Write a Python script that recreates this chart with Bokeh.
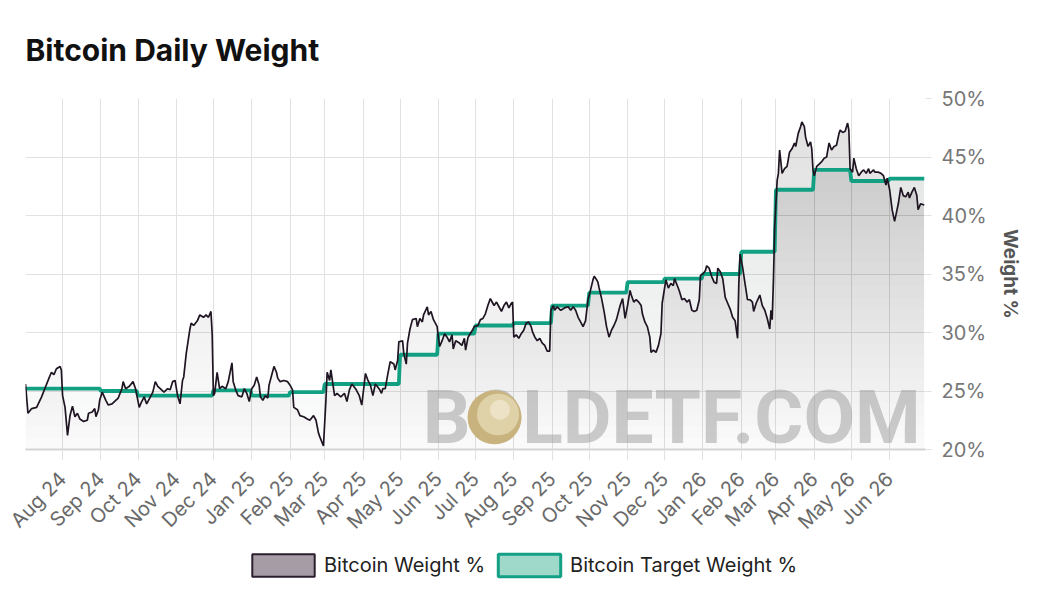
import math
import numpy as np
import pandas as pd
from bokeh.plotting import figure
from bokeh.layouts import column
from bokeh.models import (Range1d, MonthsTicker, DatetimeTickFormatter, PrintfTickFormatter,
                          FixedTicker, Legend, LegendItem, Label)
from bokeh.embed import file_html
from bokeh.resources import INLINE

# ---------------- data ----------------
weight_dates = [
    "2024-07-02","2024-07-04","2024-07-07","2024-07-11","2024-07-15","2024-07-18","2024-07-21","2024-07-23","2024-07-25","2024-07-27","2024-07-30","2024-07-31",
    "2024-08-01","2024-08-03","2024-08-05","2024-08-07","2024-08-09","2024-08-11","2024-08-13","2024-08-15","2024-08-18","2024-08-21","2024-08-22","2024-08-25","2024-08-27","2024-08-28","2024-08-30","2024-08-31",
    "2024-09-02","2024-09-05","2024-09-07","2024-09-10","2024-09-13","2024-09-15","2024-09-18","2024-09-19","2024-09-21","2024-09-24","2024-09-27","2024-09-29",
    "2024-10-02","2024-10-04","2024-10-06","2024-10-08","2024-10-11","2024-10-13","2024-10-15","2024-10-17","2024-10-19","2024-10-22","2024-10-25","2024-10-27","2024-10-29","2024-10-31",
    "2024-11-02","2024-11-04","2024-11-06","2024-11-07","2024-11-09","2024-11-12","2024-11-13","2024-11-15","2024-11-18","2024-11-20","2024-11-23","2024-11-25","2024-11-27","2024-11-29","2024-11-30",
    "2024-12-01","2024-12-02","2024-12-04","2024-12-06","2024-12-08","2024-12-11","2024-12-13","2024-12-16","2024-12-17","2024-12-19","2024-12-21","2024-12-24","2024-12-26","2024-12-28","2024-12-30",
    "2025-01-01","2025-01-03","2025-01-05","2025-01-07","2025-01-08","2025-01-10","2025-01-12","2025-01-14","2025-01-15","2025-01-17","2025-01-19","2025-01-21","2025-01-22","2025-01-24","2025-01-27","2025-01-30",
    "2025-02-01","2025-02-03","2025-02-04","2025-02-07","2025-02-09","2025-02-12","2025-02-15","2025-02-17","2025-02-20","2025-02-22","2025-02-24","2025-02-25","2025-02-28",
    "2025-03-02","2025-03-03","2025-03-05","2025-03-06","2025-03-09","2025-03-11","2025-03-14","2025-03-17","2025-03-19","2025-03-21","2025-03-23","2025-03-26","2025-03-29","2025-03-31",
    "2025-04-02","2025-04-03","2025-04-05","2025-04-07","2025-04-09","2025-04-11","2025-04-14","2025-04-16","2025-04-17","2025-04-19","2025-04-21","2025-04-23","2025-04-26","2025-04-27","2025-04-29","2025-04-30",
    "2025-05-03","2025-05-04","2025-05-06","2025-05-07","2025-05-09","2025-05-11","2025-05-14","2025-05-15","2025-05-17","2025-05-19","2025-05-20","2025-05-23","2025-05-24","2025-05-26","2025-05-28","2025-05-31",
    "2025-06-01","2025-06-02","2025-06-04","2025-06-06","2025-06-08","2025-06-10","2025-06-12","2025-06-13","2025-06-15","2025-06-18","2025-06-20","2025-06-22","2025-06-23","2025-06-25","2025-06-28","2025-06-30",
    "2025-07-03","2025-07-05","2025-07-07","2025-07-09","2025-07-11","2025-07-13","2025-07-15","2025-07-16","2025-07-18","2025-07-20","2025-07-22","2025-07-24","2025-07-26","2025-07-28","2025-07-30","2025-07-31",
    "2025-08-01","2025-08-03","2025-08-05","2025-08-07","2025-08-09","2025-08-11","2025-08-13","2025-08-15","2025-08-16","2025-08-18","2025-08-20","2025-08-22","2025-08-24","2025-08-26","2025-08-28","2025-08-30","2025-08-31",
    "2025-09-02","2025-09-03","2025-09-05","2025-09-08","2025-09-11","2025-09-14","2025-09-16","2025-09-18","2025-09-20","2025-09-22","2025-09-24","2025-09-26","2025-09-28","2025-09-30",
    "2025-10-02","2025-10-04","2025-10-05","2025-10-07","2025-10-08","2025-10-09","2025-10-11","2025-10-13","2025-10-15","2025-10-17","2025-10-19","2025-10-21","2025-10-23","2025-10-26","2025-10-28","2025-10-30",
    "2025-11-01","2025-11-03","2025-11-04","2025-11-06","2025-11-08","2025-11-10","2025-11-12","2025-11-13","2025-11-15","2025-11-17","2025-11-19","2025-11-20","2025-11-22","2025-11-24","2025-11-26","2025-11-28","2025-11-29",
    "2025-12-02","2025-12-04","2025-12-06","2025-12-08","2025-12-09","2025-12-12","2025-12-13","2025-12-15","2025-12-17","2025-12-19","2025-12-21","2025-12-23","2025-12-25","2025-12-27","2025-12-29","2025-12-30",
    "2026-01-01","2026-01-03","2026-01-04","2026-01-06","2026-01-08","2026-01-10","2026-01-12","2026-01-13","2026-01-15","2026-01-17","2026-01-19","2026-01-21","2026-01-23","2026-01-25","2026-01-27","2026-01-29","2026-01-30","2026-01-31",
    "2026-02-02","2026-02-04","2026-02-06","2026-02-08","2026-02-10","2026-02-11","2026-02-13","2026-02-16","2026-02-18","2026-02-20","2026-02-22","2026-02-24","2026-02-25","2026-02-26","2026-02-27","2026-02-28",
    "2026-03-02","2026-03-03","2026-03-04","2026-03-06","2026-03-08","2026-03-10","2026-03-12","2026-03-14","2026-03-16","2026-03-17","2026-03-19","2026-03-21","2026-03-22","2026-03-24","2026-03-25","2026-03-27","2026-03-29","2026-03-30","2026-03-31",
    "2026-04-01","2026-04-03","2026-04-05","2026-04-07","2026-04-09","2026-04-11","2026-04-13","2026-04-15","2026-04-17","2026-04-19","2026-04-21","2026-04-22","2026-04-24","2026-04-26","2026-04-28","2026-04-29","2026-04-30",
    "2026-05-02","2026-05-03","2026-05-05","2026-05-07","2026-05-09","2026-05-11","2026-05-13","2026-05-15","2026-05-16","2026-05-19","2026-05-20","2026-05-23","2026-05-25","2026-05-27","2026-05-29","2026-05-30",
    "2026-06-01","2026-06-03","2026-06-05","2026-06-07","2026-06-08","2026-06-10","2026-06-12","2026-06-14","2026-06-16","2026-06-17","2026-06-19","2026-06-21","2026-06-23","2026-06-24","2026-06-26","2026-06-29",
]
weight_values = [
    25.6,23.1,23.5,23.6,24.5,25.3,26.1,26.6,26.4,26.9,27.1,26.8,
    24.6,23.6,21.2,22.9,23.7,22.8,23.1,22.6,22.4,22.5,23.1,23.2,23.5,22.8,23.4,24.2,
    24.9,24.2,23.8,23.9,24.2,24.4,25.2,25.8,25.2,25.4,25.8,25.2,
    23.6,24.1,24.5,23.9,24.5,24.9,25.8,25.4,25.2,24.9,25.2,25.1,25.8,25.9,
    24.6,23.9,25.9,26.2,28.2,30.3,30.8,30.6,31.0,31.5,31.3,31.5,31.3,31.8,29.9,
    24.6,24.8,26.6,25.2,25.4,25.2,25.8,27.4,25.8,25.1,24.6,24.5,25.2,24.8,24.1,
    25.2,25.5,26.2,25.5,24.5,24.2,24.6,24.4,25.5,26.3,27.1,26.6,26.1,25.8,25.9,25.8,
    25.5,25.1,23.6,23.4,22.9,22.8,22.6,22.5,22.9,22.5,21.4,21.1,20.3,
    24.2,26.6,25.9,26.8,24.6,24.8,24.5,24.8,24.1,25.1,25.6,25.2,24.6,23.8,
    25.6,26.5,25.9,25.5,24.6,25.6,25.2,24.8,25.2,25.2,26.4,27.5,27.3,26.8,27.6,29.2,
    29.3,28.2,27.3,29.1,30.3,31.1,31.2,30.5,31.2,30.9,31.5,32.2,31.5,31.8,31.1,30.5,
    29.5,28.8,29.3,29.9,29.6,29.2,29.8,28.6,29.3,29.1,28.9,29.5,28.5,29.6,30.1,30.5,
    30.6,31.1,31.2,31.6,32.3,32.9,32.5,32.3,32.6,32.2,31.8,32.3,32.6,32.1,32.5,32.6,
    29.6,29.8,29.5,29.9,30.2,30.8,30.9,30.5,30.1,29.6,29.3,29.5,29.1,28.9,28.4,28.4,31.9,
    32.3,31.9,32.2,31.9,32.1,32.2,31.9,32.2,31.9,31.3,30.9,30.5,31.0,32.8,
    33.6,34.5,34.8,34.5,34.3,33.8,32.9,31.8,30.5,29.6,30.2,30.6,31.1,32.3,32.9,31.2,
    32.3,33.6,33.2,32.6,32.8,32.6,32.3,31.6,30.9,30.5,29.6,28.3,28.5,28.3,28.9,29.9,32.5,
    34.5,33.8,34.2,34.0,34.6,33.8,33.5,32.8,32.9,32.6,32.8,31.9,31.8,31.9,32.8,34.9,
    35.0,35.3,35.7,35.5,34.8,34.3,34.2,35.5,35.2,34.6,33.0,32.5,32.0,31.3,31.0,29.5,34.2,36.7,
    35.6,34.2,32.8,32.8,32.6,31.8,32.5,33.2,32.3,31.9,31.2,30.3,31.9,31.1,34.5,39.0,
    43.0,43.6,45.6,43.6,44.0,44.2,45.4,45.7,46.2,45.9,47.0,47.6,48.0,47.6,46.7,45.9,46.3,45.7,43.9,
    43.4,44.2,44.4,44.6,44.9,45.0,46.2,45.6,45.9,46.0,47.0,47.3,47.1,47.2,47.9,47.3,44.0,
    43.7,44.9,44.0,43.4,43.7,43.9,43.6,44.0,43.6,43.9,43.7,43.7,43.6,43.4,42.6,43.2,
    42.2,40.5,39.5,40.5,41.0,42.4,41.7,41.6,42.0,41.5,42.0,42.4,41.7,40.5,41.0,40.9,
]
target_months = ["2024-07","2024-08","2024-09","2024-10","2024-11","2024-12",
                 "2025-01","2025-02","2025-03","2025-04","2025-05","2025-06",
                 "2025-07","2025-08","2025-09","2025-10","2025-11","2025-12",
                 "2026-01","2026-02","2026-03","2026-04","2026-05","2026-06"]
target_values = [25.2,25.2,25.0,24.6,24.6,25.05,
                 24.6,24.9,25.6,25.6,28.1,29.9,
                 30.6,30.8,32.3,33.4,34.3,34.6,
                 35.0,36.9,42.2,43.9,42.95,43.15]
y_ticks = [20, 25, 30, 35, 40, 45, 50]
series_labels = ["Bitcoin Weight %", "Bitcoin Target Weight %"]

assert len(weight_dates) == len(weight_values)

wd = pd.to_datetime(weight_dates)
wv = np.array(weight_values, dtype=float)
first, last = wd[0], wd[-1]

tx, ty = [], []
for m, v in zip(target_months, target_values):
    s = pd.Timestamp(m + "-01")
    e = s + pd.offsets.MonthEnd(0)
    s = max(s, first)
    e = min(e, last)
    tx += [s, e]
    ty += [v, v]
tx = pd.DatetimeIndex(tx)
ty = np.array(ty, dtype=float)

FONT = "Inter"

p = figure(width=1035, height=549, x_axis_type="datetime", y_axis_location="right",
           x_range=Range1d(first.to_pydatetime(), pd.Timestamp("2026-06-30").to_pydatetime()),
           y_range=Range1d(20, 50),
           output_backend="svg", toolbar_location=None,
           min_border_left=25, min_border_right=110, min_border_top=98, min_border_bottom=100)
p.background_fill_color = "white"
p.border_fill_color = "white"
p.outline_line_color = None

# title
p.title.text = "Bitcoin Daily Weight"
p.title.text_font = FONT
p.title.text_font_style = "bold"
p.title.text_font_size = "30px"
p.title.text_color = "#111111"
p.title.standoff = 60
p.title.vertical_align = "middle"

# grids
p.xgrid.grid_line_color = "#e2e2e2"
p.ygrid.grid_line_color = "#e2e2e2"

# x axis
p.xaxis.ticker = MonthsTicker(months=list(range(1, 13)))
p.xaxis.formatter = DatetimeTickFormatter(months="%b %y", days="%b %y")
p.xaxis.major_label_orientation = math.pi / 4
p.xaxis.major_label_text_font = FONT
p.xaxis.major_label_text_font_size = "20px"
p.xaxis.major_label_text_color = "#6a6a6a"
p.xaxis.axis_line_color = "#d4d4d4"
p.xaxis.axis_line_width = 2
p.xaxis.major_tick_line_color = "#e2e2e2"
p.xaxis.major_tick_out = 11
p.xaxis.major_tick_in = 0
p.xaxis.minor_tick_line_color = None
p.xaxis.major_label_standoff = 15

# y axis (right)
p.yaxis.ticker = FixedTicker(ticks=y_ticks)
p.yaxis.formatter = PrintfTickFormatter(format="%d%%")
p.yaxis.axis_line_color = None
p.yaxis.major_tick_line_color = "#e2e2e2"
p.yaxis.major_tick_out = 6
p.yaxis.major_tick_in = 0
p.yaxis.minor_tick_line_color = None
p.yaxis.major_label_text_font = FONT
p.yaxis.major_label_text_font_size = "20px"
p.yaxis.major_label_text_color = "#777777"
p.yaxis.major_label_standoff = 10
p.yaxis.axis_label = "Weight %"
p.yaxis.axis_label_text_font = FONT
p.yaxis.axis_label_text_font_style = "bold"
p.yaxis.axis_label_text_font_size = "19px"
p.yaxis.axis_label_text_color = "#555555"
p.yaxis.axis_label_standoff = 9

# gradient fills (stacked translucent layers, darker towards the top)
STEP = 1.0
levels = np.arange(20, 50, STEP)

def gradient_layers(xs, ys, color, a0, k):
    prev = 0.0
    for L in levels:
        if ys.max() <= L:
            break
        cum = min(a0 + k * (L + STEP / 2 - 20), 0.95)
        a = 1 - (1 - cum) / (1 - prev)
        prev = cum
        p.varea(x=xs, y1=np.full(len(ys), float(L)), y2=np.maximum(ys, L),
                fill_color=color, fill_alpha=a)

gradient_layers(wd, wv, "#6c5e6e", 0.013, 0.0072)
gradient_layers(tx, ty, "#4a9f82", 0.012, 0.0070)

# watermark
p.add_layout(Label(x=pd.Timestamp("2025-05-19 07:00").to_pydatetime(), y=22.8,
                   text="BOLDETF.COM", text_font="Roboto", text_font_style="bold",
                   text_font_size="75px", text_color="#9a9a9a", text_alpha=0.5,
                   text_baseline="middle"))
p.scatter(x=[pd.Timestamp("2025-07-16 10:00")], y=[22.75], size=54, marker="circle",
          fill_color="#c8b27e", line_color=None, fill_alpha=1.0, level="overlay")
p.scatter(x=[pd.Timestamp("2025-07-19 06:00")], y=[23.0], size=42, marker="circle",
          fill_color="#e0d3ab", line_color=None, fill_alpha=0.95, level="overlay")
p.scatter(x=[pd.Timestamp("2025-07-20 18:00")], y=[23.4], size=20, marker="circle",
          fill_color="#f2ead3", line_color=None, fill_alpha=0.7, level="overlay")

# lines
p.line(tx, ty, line_color="#12a083", line_width=3.8)
p.line(wd, wv, line_color="#1f1522", line_width=1.7)

# ---------------- legend (own strip below the chart) ----------------
lg = figure(width=1035, height=50, x_range=Range1d(first.to_pydatetime(), last.to_pydatetime()),
            y_range=Range1d(20, 50), x_axis_type="datetime",
            x_axis_location=None, y_axis_location=None,
            output_backend="svg", toolbar_location=None, min_border=0)
lg.outline_line_color = None
lg.grid.visible = False
lg.background_fill_color = "white"
lg.border_fill_color = "white"
r1 = lg.quad(left=[first], right=[last], bottom=[wv.min()], top=[wv.max()],
             fill_color="#a59ca6", line_color="#2b1e2e", line_width=2, visible=False)
r2 = lg.quad(left=[first], right=[last], bottom=[ty.min()], top=[ty.max()],
             fill_color="#9fd9c9", line_color="#13a084", line_width=3, visible=False)
legend = Legend(items=[LegendItem(label=series_labels[0], renderers=[r1]),
                       LegendItem(label=series_labels[1], renderers=[r2])],
                orientation="horizontal", location=(219, 20),
                glyph_width=78, glyph_height=28, label_standoff=2, spacing=5,
                label_text_font=FONT, label_text_font_size="20px", label_text_color="#222222",
                border_line_color=None, background_fill_alpha=0, padding=0, margin=0)
lg.add_layout(legend, "center")

layout = column(p, lg, spacing=0)
open("out.html", "w").write(file_html(layout, INLINE))
